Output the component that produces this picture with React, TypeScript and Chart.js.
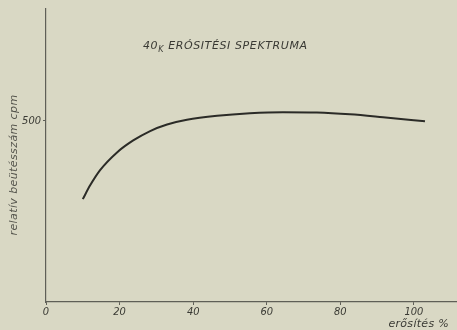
import React, { useEffect, useRef } from 'react';
import { Chart, registerables } from 'chart.js';

Chart.register(...registerables);

// Data
const gainPct = [10, 12, 14.7, 19.3, 23.7, 28.3, 32.9, 38.3, 46.5, 55.4, 64.4, 73.6, 82.6, 91.6, 103];
const relCpm = [284, 322, 364, 413, 446, 472, 490, 503, 514, 521, 524, 523, 518, 510, 499];
const xTickValues = [0, 20, 40, 60, 80, 100];
const yTickValues = [500];

const titleMain = '40';
const titleSub = 'K';
const titleRest = ' ERÓSITÉSI SPEKTRUMA';
const yTitle = 'relatív beütésszám cpm';
const xTitle = 'erősítés %';

const BG = '#d9d8c4';
const INK = '#2b2b27';
const AXIS = '#5f5f57';
const FONT = '"DejaVu Sans Condensed", "DejaVu Sans", sans-serif';
const FONT_W = '"DejaVu Sans", sans-serif';

const paperPlugin = {
  id: 'paper',
  beforeDraw(chart: any) {
    const { ctx, width, height } = chart;
    ctx.save();
    ctx.fillStyle = BG;
    ctx.fillRect(0, 0, width, height);
    ctx.restore();
  },
  afterDraw(chart: any) {
    const { ctx } = chart;
    ctx.save();
    ctx.fillStyle = '#3a3a34';
    // title
    ctx.textBaseline = 'alphabetic';
    ctx.textAlign = 'left';
    ctx.letterSpacing = '0.6px';
    ctx.font = `italic 11px ${FONT_W}`;
    let x = 143;
    const y = 49;
    ctx.fillText(titleMain, x, y);
    x += ctx.measureText(titleMain).width;
    ctx.font = `italic 8px ${FONT_W}`;
    ctx.fillText(titleSub, x, y + 3);
    x += ctx.measureText(titleSub).width;
    ctx.font = `italic 11px ${FONT_W}`;
    ctx.fillText(titleRest, x, y);
    // y title
    ctx.save();
    ctx.translate(17, 165);
    ctx.rotate(-Math.PI / 2);
    ctx.textAlign = 'center';
    ctx.fillStyle = '#55554d';
    ctx.letterSpacing = '0.4px';
    ctx.font = `italic 11px ${FONT_W}`;
    ctx.fillText(yTitle, 0, 0);
    ctx.restore();
    // x title
    ctx.textAlign = 'right';
    ctx.fillStyle = '#3a3a34';
    ctx.letterSpacing = '0.3px';
    ctx.font = `italic 11px ${FONT_W}`;
    ctx.fillText(xTitle, 449, 327);
    ctx.restore();
  },
};

export default function App() {
  const ref = useRef<HTMLCanvasElement>(null);
  useEffect(() => {
    document.body.style.margin = '0';
    document.body.style.background = BG;
    const canvas = ref.current!;
    const chart = new Chart(canvas, {
      type: 'scatter',
      data: {
        datasets: [
          {
            data: gainPct.map((g, i) => ({ x: g, y: relCpm[i] })),
            showLine: true,
            borderColor: INK,
            borderWidth: 2,
            pointRadius: 0,
            tension: 0.4,
            cubicInterpolationMode: 'monotone',
          },
        ],
      },
      options: {
        animation: false,
        responsive: false,
        layout: { padding: { top: 8, right: 0, left: 0, bottom: 0 } },
        plugins: { legend: { display: false }, tooltip: { enabled: false }, title: { display: false } },
        scales: {
          x: {
            type: 'linear',
            min: 0,
            max: 111.7,
            afterBuildTicks: (s: any) => {
              s.ticks = xTickValues.map((v) => ({ value: v }));
            },
            afterFit: (s: any) => {
              s.height = 28;
            },
            grid: { drawOnChartArea: false, drawTicks: true, tickLength: 3, color: AXIS },
            border: { display: true, color: AXIS, width: 1.2 },
            ticks: {
              padding: 1,
              color: '#3a3a34',
              font: { family: FONT, size: 11, style: 'italic' },
              maxRotation: 0,
            },
          },
          y: {
            type: 'linear',
            min: 0,
            max: 810,
            afterBuildTicks: (s: any) => {
              s.ticks = yTickValues.map((v) => ({ value: v }));
            },
            afterFit: (s: any) => {
              s.width = 46;
            },
            grid: { drawOnChartArea: false, drawTicks: true, tickLength: 3, color: AXIS },
            border: { display: true, color: AXIS, width: 1.2 },
            ticks: {
              padding: 2,
              color: '#3a3a34',
              font: { family: FONT, size: 11, style: 'italic' },
            },
          },
        },
      },
      plugins: [paperPlugin],
    } as any);
    return () => chart.destroy();
  }, []);
  return <canvas ref={ref} width={457} height={330} style={{ display: 'block', width: 457, height: 330 }} />;
}
